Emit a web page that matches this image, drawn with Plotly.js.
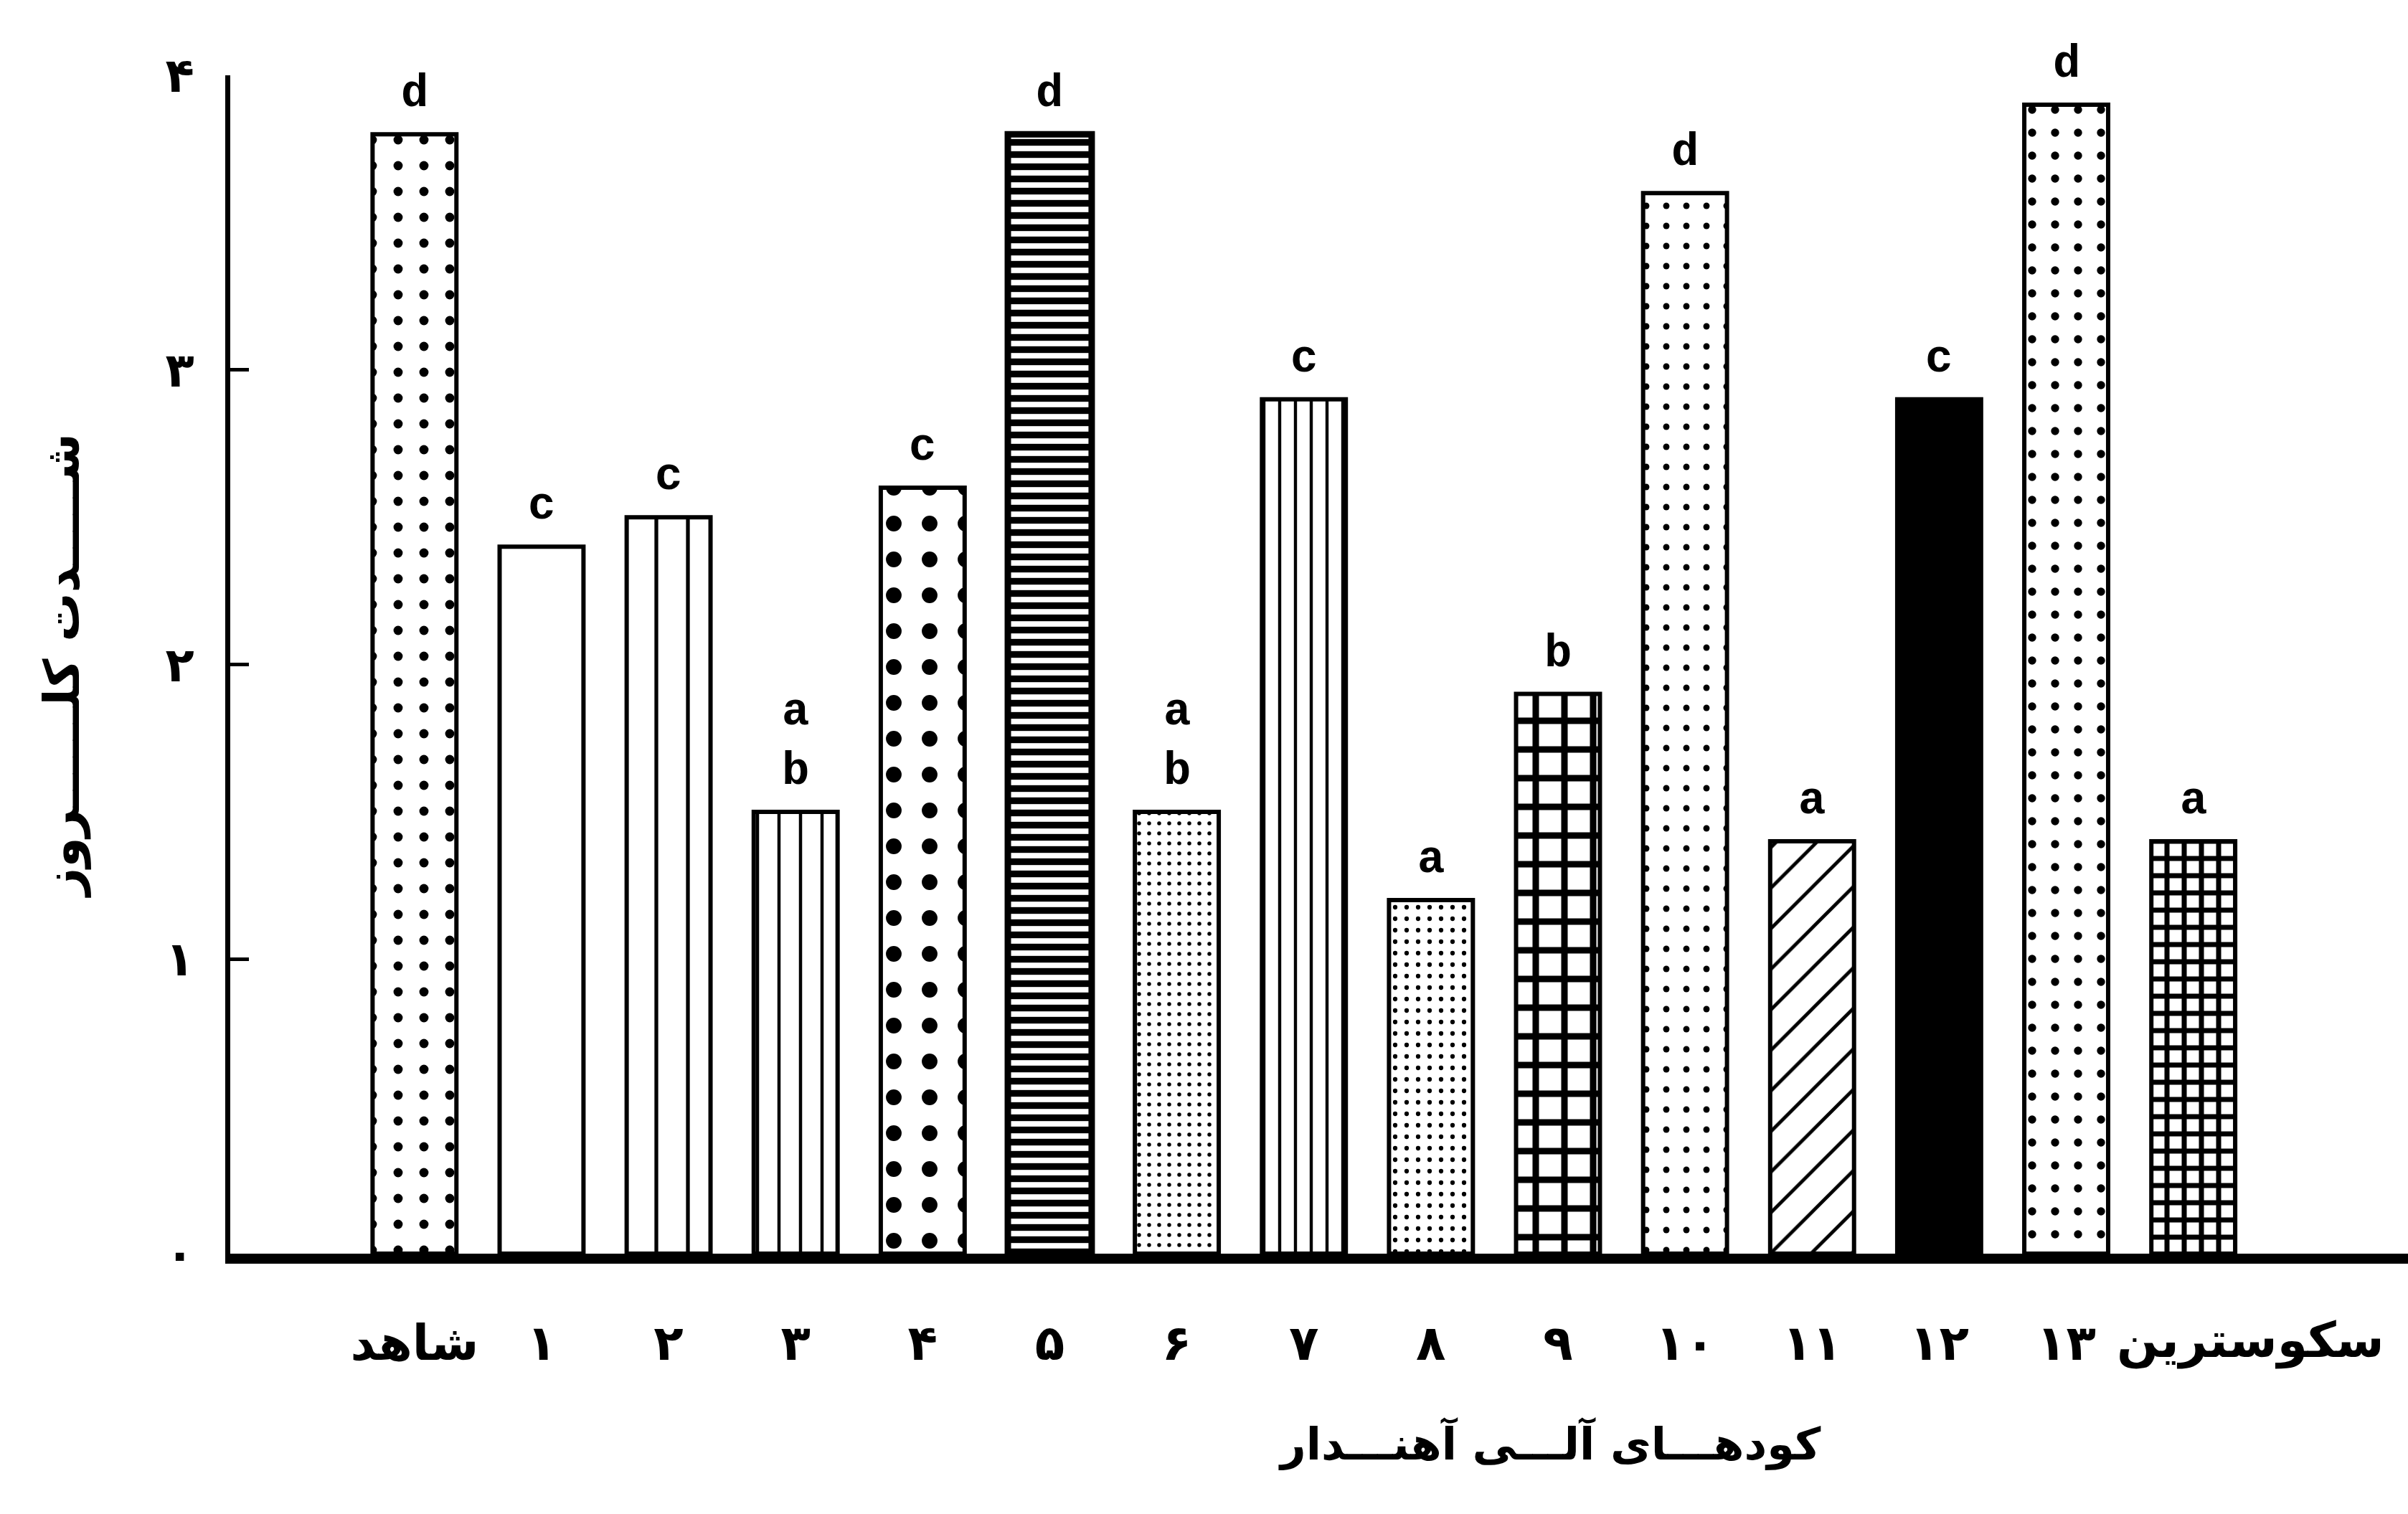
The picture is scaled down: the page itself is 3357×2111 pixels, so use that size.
<!DOCTYPE html>
<html>
<head>
<meta charset="utf-8">
<script src="https://cdn.plot.ly/plotly-3.0.1.min.js"></script>
<style>html,body{margin:0;padding:0;background:#fff;}</style>
</head>
<body>
<div id="chart" style="width:3357px;height:2111px;"></div>
<script>
// ---- data ----
const categories = ['شاهد','۱','۲','۳','۴','۵','۶','۷','۸','۹','۱۰','۱۱','۱۲','۱۳','سکوسترین'];
const values     = [3.8, 2.4, 2.5, 1.5, 2.6, 3.8, 1.5, 2.9, 1.2, 1.9, 3.6, 1.4, 2.9, 3.9, 1.4];
const letters    = ['d','c','c','a<br>b','c','d','a<br>b','c','a','b','d','a','c','d','a'];
const yTickVals  = [0, 1, 2, 3, 4];
const yTickText  = ['۰','۱','۲','۳','۴'];
const xTitle = 'کودهـــای آلـــی آهنـــدار';
const yTitle = 'شـــــدت کلــــــروز';

// ---- styles (fill patterns per bar) ----
const patShape    = ['.', '',  '|', '|', '.', '-', '.', '|', '.', '+', '.', '/', '.', '.', '+'];
const patSize     = [36,  10,  44,  30,  50,  17,  14,  22,  16,  40,  28,  40,  10,  32,  24];
const patSolidity = [0.1, 0.1, 0.12,0.15,0.15,0.55,0.12,0.2, 0.12,0.4, 0.08,0.12,0.5, 0.1, 0.5];
const patBg       = categories.map((c, i) => i === 12 ? '#000' : '#fff');
const lineWidth   = categories.map((c, i) => i === 5 ? 9 : 6);

// the last category label sits a little to the right of its bar in the reference,
// so it is drawn as an annotation and its tick label is left empty
const lastIdx = categories.length - 1;
const xTickText = categories.map((c, i) => i === lastIdx ? '' : c);

const tickFont = {family: 'DejaVu Sans, sans-serif', size: 68, color: '#000', weight: 'bold'};

const trace = {
  type: 'bar',
  x: categories,
  y: values,
  width: 0.66,
  marker: {
    color: '#fff',
    line: {color: '#000', width: lineWidth},
    pattern: {
      shape: patShape,
      size: patSize,
      solidity: patSolidity,
      fgcolor: '#000',
      bgcolor: patBg,
      fgopacity: 1,
      fillmode: 'replace'
    }
  },
  hoverinfo: 'x+y'
};

const letterAnns = categories.map((c, i) => ({
  x: c, y: values[i], xref: 'x', yref: 'y',
  text: letters[i], showarrow: false,
  yanchor: 'bottom', yshift: 18,
  font: {family: 'Liberation Mono', size: 64, color: '#000', weight: 'bold'}
}));

const layout = {
  width: 3357, height: 2111,
  margin: {l: 321, r: 0, t: 105, b: 363},
  paper_bgcolor: '#fff', plot_bgcolor: '#fff',
  showlegend: false,
  font: {family: 'DejaVu Sans, sans-serif', color: '#000'},
  xaxis: {
    type: 'category',
    range: [-1.45, 15.69],
    showgrid: false, zeroline: false,
    showline: true, linecolor: '#000', linewidth: 14,
    ticks: '', tickangle: 0,
    tickvals: categories, ticktext: xTickText,
    tickfont: tickFont,
    ticklabelstandoff: 52
  },
  yaxis: {
    range: [0, 4],
    showgrid: false, zeroline: false,
    showline: true, linecolor: '#000', linewidth: 7,
    ticks: 'inside', ticklen: 26, tickwidth: 5, tickcolor: '#000',
    tickvals: yTickVals, ticktext: yTickText,
    tickfont: {family: 'DejaVu Sans, sans-serif', size: 66, color: '#000', weight: 'bold'},
    ticklabelstandoff: 30,
    title: {text: yTitle, standoff: 100, font: {family: 'DejaVu Sans, sans-serif', size: 68, color: '#000', weight: 'bold'}}
  },
  annotations: letterAnns.concat([
    {
      x: categories[lastIdx], xref: 'x', xshift: 80,
      y: -0.0736, yref: 'paper',
      xanchor: 'center', yanchor: 'middle', showarrow: false,
      text: categories[lastIdx],
      font: tickFont
    },
    {
      xref: 'paper', yref: 'paper', x: 0.606, y: -0.161,
      xanchor: 'center', yanchor: 'middle', showarrow: false,
      text: xTitle,
      font: {family: 'DejaVu Sans, sans-serif', size: 62, color: '#000', weight: 'bold'}
    }
  ])
};

Plotly.newPlot('chart', [trace], layout, {staticPlot: true, displayModeBar: false});
</script>
</body>
</html>
